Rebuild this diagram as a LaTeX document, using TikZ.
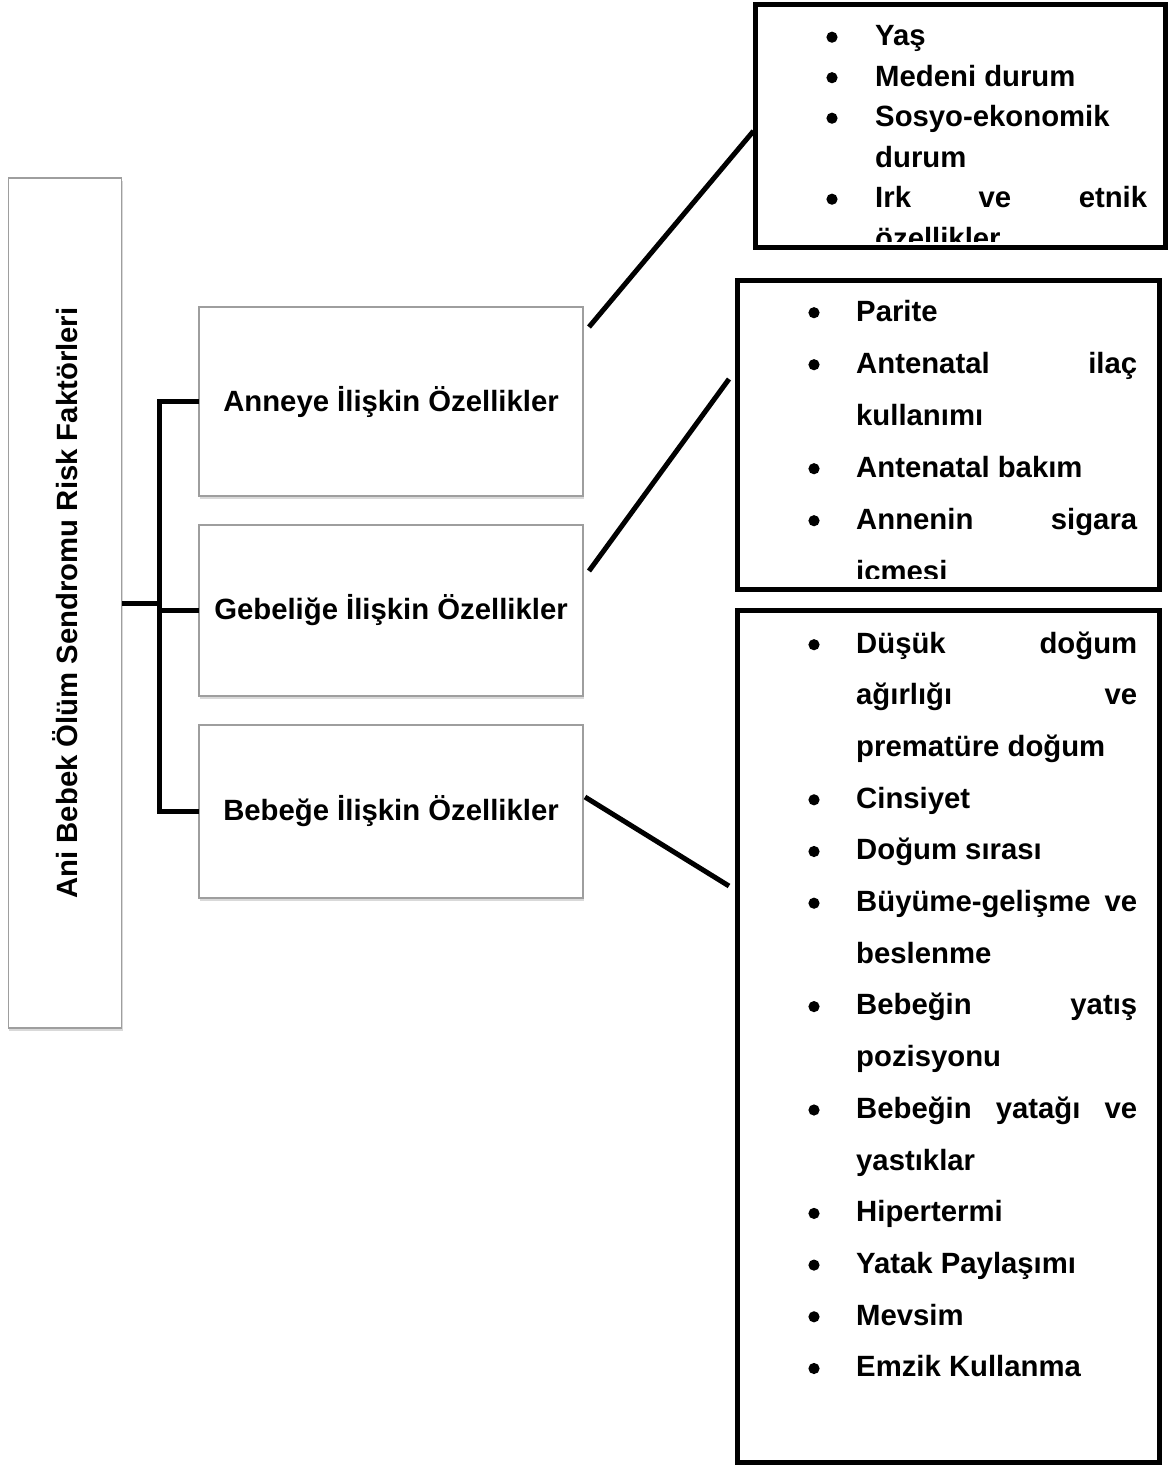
\documentclass[tikz,border=0pt]{standalone}
\usepackage{fontspec}
\setmainfont{Liberation Sans}
\usetikzlibrary{shadows}
\tikzset{
  catbox/.style={draw=black!38, line width=1.2pt, fill=white, inner sep=0pt, outer sep=0pt,
    font=\bfseries\fontsize{29.3}{35}\selectfont,
    drop shadow={shadow xshift=1pt, shadow yshift=-2.5pt, opacity=0.3}},
  listbox/.style={draw=black, line width=5pt, inner sep=0pt, outer sep=0pt},
  link/.style={line width=5pt},
  bracket/.style={line width=5pt},
  item/.style={anchor=base west, inner sep=0pt, font=\bfseries\fontsize{29.3}{35}\selectfont},
}
\newcommand\myline[4]{\node[item] (#1) at (#2,#3) {#4};}
\newcommand\mybul[2]{\fill (#1,#2-8.3) circle (5.6pt);}
\begin{document}
\begin{tikzpicture}[x=1pt,y=-1pt]
\useasboundingbox (0,0) rectangle (1169,1468);
% left title box
\node[catbox, minimum width=113.5pt, minimum height=850pt] (risk) at (65,603)
  {\rotatebox{90}{Ani Bebek Ölüm Sendromu Risk Faktörleri}};
% category boxes
\node[catbox, minimum width=384pt, minimum height=189pt] (anne) at (391,401.5) {Anneye İlişkin Özellikler};
\node[catbox, minimum width=384pt, minimum height=171pt] (gebe) at (391,610.5) {Gebeliğe İlişkin Özellikler};
\node[catbox, minimum width=384pt, minimum height=173pt] (bebek) at (391,811.5) {Bebeğe İlişkin Özellikler};
% list box 1
\begin{scope}
\clip (758,7) rectangle (1163,241);
\mybul{832}{45.5}\myline{a1}{875}{45.5}{Yaş}
\mybul{832}{86}\myline{a2}{875}{86}{Medeni durum}
\mybul{832}{126.5}\myline{a3}{875}{126.5}{Sosyo-ekonomik}
\myline{a4}{875}{167}{durum}
\mybul{832}{207.5}\myline{a5}{875}{207.5}{\makebox[272pt][s]{Irk ve etnik}}
\myline{a6}{875}{248}{özellikler}
\end{scope}
% list box 2
\begin{scope}
\clip (740,283) rectangle (1157,578);
\mybul{814}{321}\myline{b1}{856}{321}{Parite}
\mybul{814}{373}\myline{b2}{856}{373}{\makebox[281pt][s]{Antenatal ilaç}}
\myline{b3}{856}{425}{kullanımı}
\mybul{814}{477}\myline{b4}{856}{477}{Antenatal bakım}
\mybul{814}{529}\myline{b5}{856}{529}{\makebox[281pt][s]{Annenin sigara}}
\myline{b6}{856}{581}{içmesi}
\end{scope}
% list box 3
\mybul{814}{653}\myline{c1}{856}{653}{\makebox[281pt][s]{Düşük doğum}}
\myline{c2}{856}{704.7}{\makebox[281pt][s]{ağırlığı ve}}
\myline{c3}{856}{756.4}{prematüre doğum}
\mybul{814}{808.1}\myline{c4}{856}{808.1}{Cinsiyet}
\mybul{814}{859.8}\myline{c5}{856}{859.8}{Doğum sırası}
\mybul{814}{911.5}\myline{c6}{856}{911.5}{\makebox[281pt][s]{Büyüme-gelişme ve}}
\myline{c7}{856}{963.2}{beslenme}
\mybul{814}{1014.9}\myline{c8}{856}{1014.9}{\makebox[281pt][s]{Bebeğin yatış}}
\myline{c9}{856}{1066.6}{pozisyonu}
\mybul{814}{1118.3}\myline{c10}{856}{1118.3}{\makebox[281pt][s]{Bebeğin yatağı ve}}
\myline{c11}{856}{1170}{yastıklar}
\mybul{814}{1221.7}\myline{c12}{856}{1221.7}{Hipertermi}
\mybul{814}{1273.4}\myline{c13}{856}{1273.4}{Yatak Paylaşımı}
\mybul{814}{1325.1}\myline{c14}{856}{1325.1}{Mevsim}
\mybul{814}{1376.8}\myline{c15}{856}{1376.8}{Emzik Kullanma}
% list box frames
\node[listbox, minimum width=410pt, minimum height=243pt] (f1) at (960.5,126) {};
\node[listbox, minimum width=422pt, minimum height=309pt] (f2) at (948.5,435) {};
\node[listbox, minimum width=422pt, minimum height=852pt] (f3) at (948.5,1036.5) {};
% bracket
\coordinate (jn) at (159,603);
\draw[bracket] (risk.east) -- (jn);
\draw[bracket] (anne.west) -| (jn) |- (bebek.west);
\draw[bracket] (jn |- gebe.west) -- (gebe.west);
% links
\draw[link] ([shift={(6,20)}]anne.north east) -- ([shift={(-2,5)}]f1.west);
\draw[link] ([shift={(6,46)}]gebe.north east) -- ([shift={(-8.5,-56)}]f2.west);
\draw[link] ([shift={(2,-14.5)}]bebek.east) -- ([shift={(-8.5,275.5)}]f3.north west);
\end{tikzpicture}
\end{document}
